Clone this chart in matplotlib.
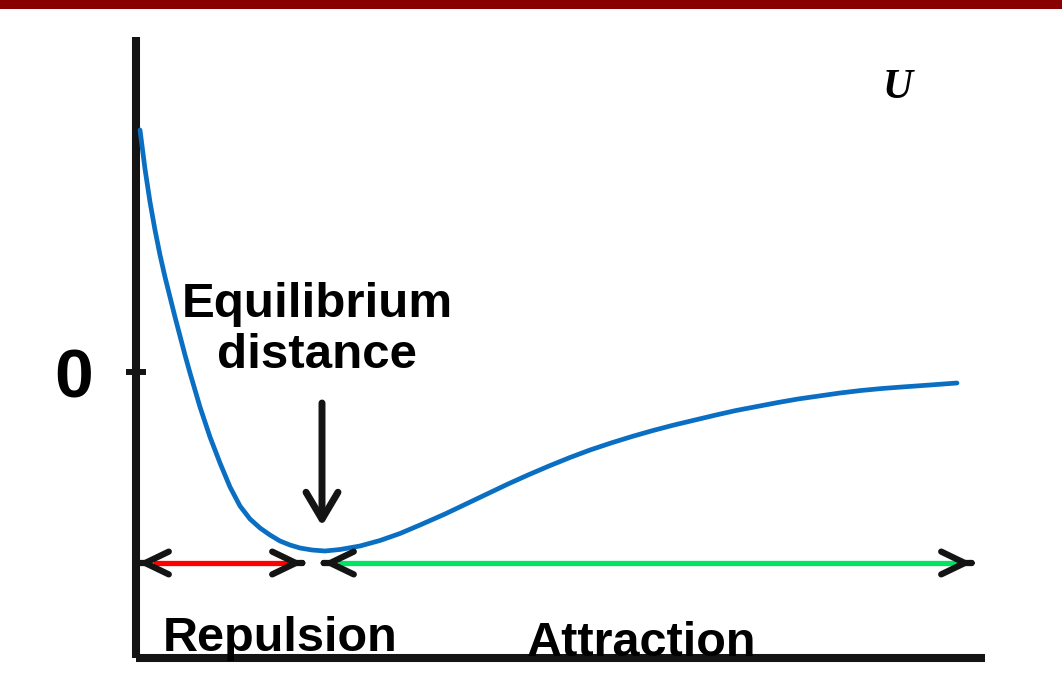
import matplotlib
matplotlib.use("Agg")
import matplotlib.pyplot as plt
from matplotlib.patches import Rectangle

# ---- data (distance r, potential energy U; zero of U at the tick) ----
r_values = [0.04, 0.09, 0.14, 0.19, 0.24, 0.29, 0.34, 0.39, 0.44, 0.49,
            0.54, 0.64, 0.74, 0.84, 0.94, 1.04, 1.14, 1.24, 1.34, 1.44,
            1.54, 1.64, 1.76, 1.89, 2.04, 2.24, 2.44, 2.64, 2.84, 3.09,
            3.30, 3.51, 3.72, 3.92, 4.13, 4.34, 4.54, 4.75, 4.96, 5.17,
            5.38, 5.59, 5.80, 6.00, 6.21, 6.42, 6.62, 6.83, 7.04, 7.25,
            7.46, 7.66, 7.94, 8.21]
U_values = [2.42, 2.03, 1.70, 1.42, 1.17, 0.95, 0.75, 0.55, 0.36, 0.17,
            -0.01, -0.35, -0.65, -0.91, -1.15, -1.34, -1.47, -1.56, -1.63, -1.69,
            -1.73, -1.76, -1.78, -1.79, -1.775, -1.74, -1.685, -1.615, -1.53, -1.42,
            -1.32, -1.22, -1.12, -1.03, -0.94, -0.855, -0.78, -0.71, -0.645, -0.585,
            -0.53, -0.48, -0.43, -0.385, -0.345, -0.305, -0.27, -0.24, -0.21, -0.185,
            -0.165, -0.15, -0.13, -0.11]

ytick_values = [0]
ytick_labels = ["0"]

repulsion_span = (0.02, 1.67)
attraction_span = (1.87, 8.36)
region_level = -1.91
equilibrium_r = 1.86
equilibrium_arrow_U = (-0.31, -1.54)

labels_regions = ["Repulsion", "Attraction"]
label_equilibrium = "Equilibrium\ndistance"
label_U = "U"

# ---- figure ----
W, H = 1062, 694
fig = plt.figure(figsize=(W / 100, H / 100), dpi=100)
fig.add_artist(Rectangle((0, 1 - 9 / H), 1, 9 / H, transform=fig.transFigure,
                         color="#880000", lw=0))

ax = fig.add_axes([136 / W, (H - 658) / H, (985 - 136) / W, (658 - 37) / H])
ax.set_xlim(0, 8.49)
ax.set_ylim(-2.86, 3.35)

axis_color = "#141414"
for s in ("top", "right"):
    ax.spines[s].set_visible(False)
for s in ("left", "bottom"):
    ax.spines[s].set_linewidth(5.8)
    ax.spines[s].set_color(axis_color)
    ax.spines[s].set_capstyle("butt")

ax.set_xticks([])
ax.set_yticks(ytick_values)
ax.set_yticklabels(ytick_labels, fontsize=50, fontweight="bold",
                   family="Liberation Sans")
ax.tick_params(axis="y", direction="inout", length=14.4, width=4.3,
               color=axis_color, pad=24)

# potential curve
ax.plot(r_values, U_values, color="#0a6fc2", lw=3.4, solid_capstyle="round",
        solid_joinstyle="round", clip_on=False, zorder=3)

# region arrows
inset = 0.15
chev = dict(arrowstyle="->, head_length=1.7, head_width=0.82", lw=4.5,
            color=axis_color, shrinkA=0, shrinkB=0, capstyle="round",
            joinstyle="round")
for span, col in ((repulsion_span, "#ff0000"), (attraction_span, "#00e463")):
    a, b = span
    ax.plot([a + inset, b - inset], [region_level, region_level], color=col,
            lw=3.8, solid_capstyle="butt", zorder=2, clip_on=False)
    ax.annotate("", xy=(a, region_level), xytext=(a + 0.01, region_level),
                arrowprops=chev, annotation_clip=False)
    ax.annotate("", xy=(b, region_level), xytext=(b - 0.01, region_level),
                arrowprops=chev, annotation_clip=False)

# equilibrium arrow
ax.annotate("", xy=(equilibrium_r, equilibrium_arrow_U[1]),
            xytext=(equilibrium_r, equilibrium_arrow_U[0]),
            arrowprops=dict(arrowstyle="->, head_length=1.94, head_width=1.15",
                            lw=5, color=axis_color, shrinkA=0, shrinkB=0,
                            capstyle="round", joinstyle="round"))

ax.text(1.81, 0.42, label_equilibrium, ha="center", va="center",
        multialignment="center", fontsize=35.5, fontweight="bold",
        family="Liberation Sans", linespacing=1.18)
ax.text(0.27, -2.79, labels_regions[0], ha="left", va="baseline",
        fontsize=35, fontweight="bold", family="Liberation Sans")
ax.text(3.91, -2.84, labels_regions[1], ha="left", va="baseline",
        fontsize=35, fontweight="bold", family="Liberation Sans")
ax.text(7.62, 2.84, label_U, ha="center", va="center", fontsize=30,
        fontweight="bold", style="italic", family="Liberation Serif")

fig.savefig("out.png", dpi=100)
